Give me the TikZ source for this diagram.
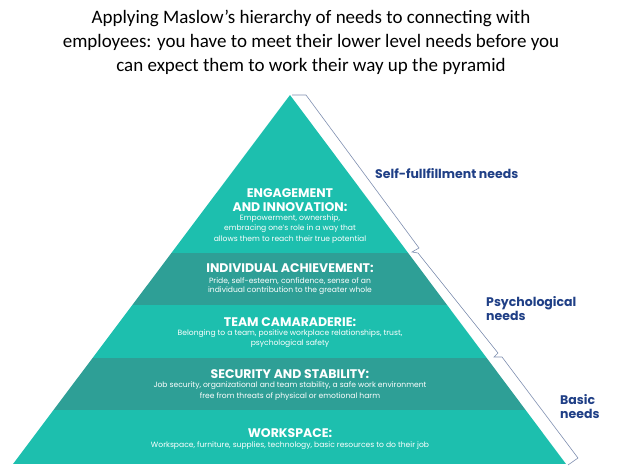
\documentclass[tikz,border=0pt]{standalone}
\usepackage{fontspec}
\setmainfont{Poppins}
\newfontfamily\titlefont{Carlito}
\definecolor{tealA}{HTML}{1DBFAE}
\definecolor{tealB}{HTML}{2E9F96}
\definecolor{navy}{HTML}{1F3F86}
\definecolor{brk}{HTML}{7F8FB0}
\begin{document}
\begin{tikzpicture}[x=1pt,y=-1pt,
  head/.style={text=white,font=\fontsize{12.5}{13}\selectfont\bfseries,inner sep=0pt},
  body/.style={text=white,font=\fontsize{7.6}{8}\selectfont,inner sep=0pt},
  side/.style={text=navy,font=\fontsize{12.5}{14}\selectfont\bfseries,inner sep=0pt,anchor=west,align=left},
  brkline/.style={draw=brk,line width=0.6pt}]
\useasboundingbox (0,0) rectangle (622,469);
\node[font=\titlefont\fontsize{19}{24}\selectfont,align=center,inner sep=0pt] (title) at (311,42)
 {Applying Maslow’s hierarchy of needs to connecting with\\employees: you have to meet their lower level needs before you\\can expect them to work their way up the pyramid};
\begin{scope}
\clip (290,95) -- (566,464) -- (13,464) -- cycle;
\fill[tealA] (0,90) rectangle (622,253);
\fill[tealB] (0,253) rectangle (622,305);
\fill[tealA] (0,305) rectangle (622,358);
\fill[tealB] (0,358) rectangle (622,410);
\fill[tealA] (0,410) rectangle (622,464);
\end{scope}
\node[head] (h1a) at (290,193) {ENGAGEMENT};
\node[head] (h1b) at (290,207) {AND INNOVATION:};
\node[body] (b1a) at (290,219) {Empowerment, ownership,};
\node[body] (b1b) at (290,229) {embracing one’s role in a way that};
\node[body] (b1c) at (290,240) {allows them to reach their true potential};
\node[head] (h2) at (290,268) {INDIVIDUAL ACHIEVEMENT:};
\node[body] (b2a) at (290,281) {Pride, self-esteem, confidence, sense of an};
\node[body] (b2b) at (290,291) {individual contribution to the greater whole};
\node[head] (h3) at (290,322) {TEAM CAMARADERIE:};
\node[body] (b3a) at (290,334) {Belonging to a team, positive workplace relationships, trust,};
\node[body] (b3b) at (290,344) {psychological safety};
\node[head] (h4) at (290,374) {SECURITY AND STABILITY:};
\node[body] (b4a) at (290,386) {Job security, organizational and team stability, a safe work environment};
\node[body] (b4b) at (290,397) {free from threats of physical or emotional harm};
\node[head] (h5) at (290,433) {WORKSPACE:};
\node[body] (b5a) at (290,446) {Workspace, furniture, supplies, technology, basic resources to do their job};
% brackets
\draw[brkline] (292,95) -- (306,95) -- (419,248) -- (412,252) -- (418,253) -- (498,353) -- (494,357) -- (502,357) -- (578,458) -- (568,465);
\node[side] (s1) at (375,174) {Self-fullfillment needs};
\node[side] (s2) at (486,309) {Psychological\\needs};
\node[side] (s3) at (560,407) {Basic\\needs};
\end{tikzpicture}
\end{document}
